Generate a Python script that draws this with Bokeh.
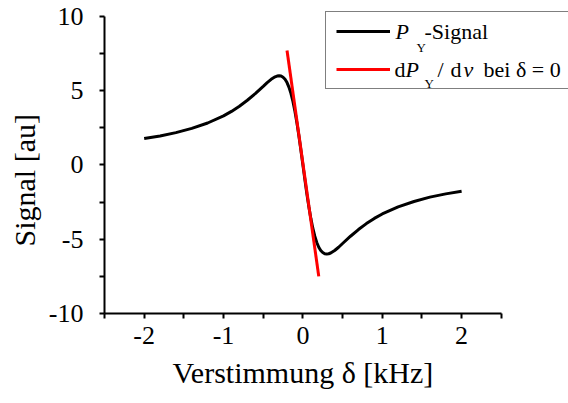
import math
from bokeh.plotting import figure
from bokeh.models import Range1d, FixedTicker, Label, Legend, LegendItem, Title
from bokeh.embed import file_html
from bokeh.resources import INLINE
from bokeh.core.properties import value

# ---- data ----
delta_khz = [-2.0, -1.8, -1.6, -1.4, -1.2, -1.0, -0.9, -0.8, -0.7, -0.6, -0.5,
             -0.45, -0.4, -0.35, -0.325, -0.3, -0.275, -0.25, -0.225, -0.2,
             -0.175, -0.15, -0.125, -0.1, -0.075, -0.05, -0.025, 0.0,
             0.025, 0.05, 0.075, 0.1, 0.125, 0.15, 0.175, 0.2, 0.225, 0.25,
             0.275, 0.3, 0.325, 0.35, 0.4, 0.45, 0.5, 0.6, 0.7, 0.8, 0.9,
             1.0, 1.2, 1.4, 1.6, 1.8, 2.0]
signal_py = [1.78, 1.95, 2.17, 2.46, 2.82, 3.30, 3.60, 3.95, 4.35, 4.80, 5.29,
             5.54, 5.76, 5.93, 5.98, 6.00, 5.98, 5.90, 5.76, 5.54,
             5.22, 4.80, 4.26, 3.60, 2.82, 1.95, 0.99, 0.0,
             -0.99, -1.95, -2.82, -3.60, -4.26, -4.80, -5.22, -5.54, -5.76, -5.90,
             -5.98, -6.00, -5.98, -5.93, -5.76, -5.54, -5.29, -4.80, -4.35, -3.95, -3.60,
             -3.30, -2.82, -2.46, -2.17, -1.95, -1.78]
tangent_x = [-0.2, 0.2]
tangent_y = [7.7, -7.5]

x_ticks = [-2, -1, 0, 1, 2]
x_tick_labels = ["-2", "-1", "0", "1", "2"]
x_minor = [-2.5, -1.5, -0.5, 0.5, 1.5, 2.5]
y_ticks = [-10, -5, 0, 5, 10]
y_tick_labels = ["-10", "-5", "0", "5", "10"]
y_minor = [-7.5, -2.5, 2.5, 7.5]

x_label = "Verstimmung δ [kHz]"
y_label = "Signal [au]"

SERIF = "Liberation Serif"

# axis extents (the visible axes run -2.5..2.5 and -10..10); the frame is widened
# to the right/top so that the legend box is not clipped
X_AX = (-2.5, 2.5)
Y_AX = (-10, 10)
PX_PER_X = 79.7
PX_PER_Y = 14.86
frame_left, frame_right, frame_top, frame_bottom = 102, 568, 10, 313
x_end = X_AX[0] + (frame_right - frame_left) / PX_PER_X
y_end = Y_AX[0] + (frame_bottom - frame_top) / PX_PER_Y

p = figure(width=568, height=403, x_range=Range1d(X_AX[0], x_end), y_range=Range1d(Y_AX[0], y_end),
           output_backend="svg", toolbar_location=None,
           min_border_left=frame_left, min_border_right=568 - frame_right,
           min_border_top=frame_top, min_border_bottom=403 - frame_bottom)
p.outline_line_color = None
p.xgrid.visible = False
p.ygrid.visible = False
p.background_fill_color = "white"
p.border_fill_color = "white"

for ax in (p.xaxis[0], p.yaxis[0]):
    ax.axis_line_width = 2
    ax.axis_line_color = "black"
    ax.major_tick_line_width = 2
    ax.minor_tick_line_width = 2
    ax.major_tick_line_color = "black"
    ax.minor_tick_line_color = "black"
    ax.major_tick_in = 0
    ax.major_tick_out = 5
    ax.minor_tick_in = 0
    ax.minor_tick_out = 5
    ax.major_label_text_font = SERIF
    ax.major_label_text_font_size = "26px"
    ax.major_label_text_color = "black"

p.xaxis.bounds = X_AX
p.yaxis.bounds = Y_AX
p.xaxis.ticker = FixedTicker(ticks=x_ticks, minor_ticks=x_minor)
p.yaxis.ticker = FixedTicker(ticks=y_ticks, minor_ticks=y_minor)
p.xaxis.major_label_overrides = {t: l for t, l in zip(x_ticks, x_tick_labels)}
p.yaxis.major_label_overrides = {t: l for t, l in zip(y_ticks, y_tick_labels)}
p.xaxis.major_label_standoff = 8
p.yaxis.major_label_standoff = 16

# axis titles as side titles, positioned along the axes as in the reference
p.add_layout(Title(text=x_label, align="left", offset=68, standoff=15,
                   text_font=SERIF, text_font_size="30px", text_font_style="normal",
                   text_color="black"), "below")
p.add_layout(Title(text=y_label, align="left", offset=67, standoff=10,
                   text_font=SERIF, text_font_size="30px", text_font_style="normal",
                   text_color="black"), "left")

r_sig = p.line(delta_khz, signal_py, line_color="black", line_width=3)
r_tan = p.line(tangent_x, tangent_y, line_color="#ff0000", line_width=3)

legend = Legend(items=[LegendItem(label=value(""), renderers=[r_sig]),
                       LegendItem(label=value(""), renderers=[r_tan])],
                location=(221, 224), padding=10, spacing=20, glyph_height=18, label_height=18,
                glyph_width=54, label_width=175, label_standoff=5, margin=0,
                border_line_color="black", border_line_width=1,
                background_fill_color="white", background_fill_alpha=0.0)
p.add_layout(legend, "center")


def lab(text, x, y, size="22px", style="normal"):
    p.add_layout(Label(x=x - frame_left, y=frame_bottom - y, x_units="screen", y_units="screen",
                       text=text, text_align="left", text_baseline="alphabetic",
                       text_font=SERIF, text_font_size=size,
                       text_font_style=style, text_color="black"))


# legend texts (row 1)
lab("P", 393, 31, style="italic")
lab("Y", 414, 47, size="13px")
lab("-Signal", 422, 31)
# legend texts (row 2)
lab("d", 392, 69)
lab("P", 403, 69, style="italic")
lab("Y", 422, 83, size="13px")
lab("/", 435, 69)
lab("d", 448, 69)
lab("ν", 461, 69, style="italic")
lab("bei δ = 0", 481, 69)

open("out.html", "w").write(file_html(p, INLINE))
